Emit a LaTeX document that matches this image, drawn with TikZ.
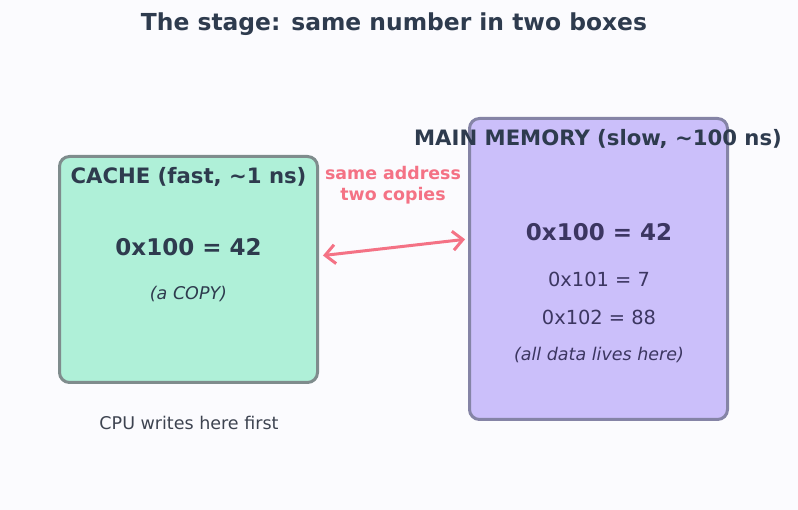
\documentclass[tikz,border=0pt]{standalone}
\usepackage{fontspec}
\setmainfont{DejaVu Sans}
\usetikzlibrary{positioning,arrows.meta}
\definecolor{paper}{HTML}{FBFBFE}
\definecolor{ink}{HTML}{2E3B4E}
\definecolor{cachefill}{HTML}{AFF0D8}
\definecolor{cacheline}{HTML}{7F8C8D}
\definecolor{memfill}{HTML}{CBBFFA}
\definecolor{memline}{HTML}{8584A6}
\definecolor{memink}{HTML}{3C3661}
\definecolor{copyline}{HTML}{F47285}
\definecolor{noteink}{HTML}{3D4350}

\begin{document}
\begin{tikzpicture}[x=1pt,y=1pt,
    store/.style={draw,line width=3pt,rounded corners=10pt,inner sep=0pt},
    head/.style={font=\fontsize{21.2}{25}\selectfont\bfseries,text=ink},
    value/.style={font=\fontsize{23}{28}\selectfont\bfseries},
    entry/.style={font=\fontsize{19.4}{23}\selectfont,text=memink},
    aside/.style={font=\fontsize{17.5}{21}\selectfont\itshape},
    link/.style={draw=copyline,line width=3pt,line cap=round,
      {Straight Barb[length=10pt,width=19pt]}-{Straight Barb[length=10pt,width=19pt]}}
  ]
  \fill[paper] (0,0) rectangle (798,510);
  \node[font=\fontsize{23.4}{28}\selectfont\bfseries,text=ink] (title) at (394,486) {The stage: same number in two boxes};

  % the two stores
  \node[store,draw=cacheline,fill=cachefill,minimum width=258pt,minimum height=226pt] (cache) at (188.5,240.5) {};
  \node[store,draw=memline,fill=memfill,minimum width=258pt,minimum height=301pt] (mem) at (598.5,241) {};

  % cache side
  \node[head] (cachehead) at (188.5,333) {CACHE (fast, \textasciitilde1 ns)};
  \node[value,text=ink] (cacheval) at (188.5,263) {0x100 = 42};
  \node[aside,text=ink] (cachecopy) at (188.5,216) {(a COPY)};
  \node[font=\fontsize{17.5}{21}\selectfont,text=noteink] (cpunote) at (189,87) {CPU writes here first};

  % memory side
  \node[head] (memhead) at (598,371) {MAIN MEMORY (slow, \textasciitilde100 ns)};
  \node[value,text=memink] (memval) at (599,278) {0x100 = 42};
  \node[entry] (memb) at (599,231) {0x101 = 7};
  \node[entry] (memc) at (599,193) {0x102 = 88};
  \node[aside,text=memink] (memnote) at (599,155) {(all data lives here)};

  % same address, two copies
  \draw[link,shorten <=4pt,shorten >=3pt] ([yshift=13.5pt]cache.east) -- ([yshift=30pt]mem.west);
  \node[font=\fontsize{17.4}{21}\selectfont\bfseries,text=copyline,align=center] (samelbl) at (393,324.5) {same address\\two copies};
\end{tikzpicture}
\end{document}
